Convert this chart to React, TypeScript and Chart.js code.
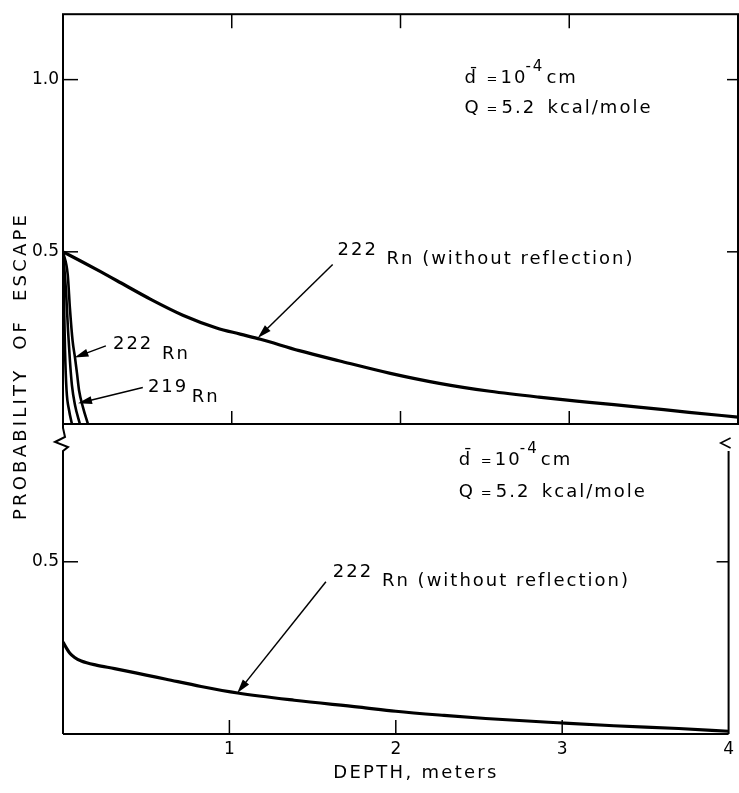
import React, { useEffect, useRef } from "react";
import { Chart, registerables } from "chart.js";

Chart.register(...registerables);

const FONT = '"DejaVu Sans", sans-serif';
const W = 739;
const H = 793;

// ---------- data (depth in meters, probability of escape) ----------
// Top panel
const topNoReflDepth = [0, 0.11, 0.22, 0.32, 0.52, 0.71, 0.91, 1.05, 1.17, 1.4, 1.64, 1.94, 2.23, 2.53, 2.82, 3.12, 3.41, 3.71, 4.0];
const topNoReflProb = [0.5, 0.472, 0.443, 0.416, 0.362, 0.316, 0.279, 0.261, 0.246, 0.213, 0.183, 0.147, 0.118, 0.095, 0.078, 0.063, 0.049, 0.034, 0.02];

const top222Depth = [0, 0.028, 0.041, 0.057, 0.071, 0.083, 0.095, 0.118, 0.148];
const top222Prob = [0.5, 0.434, 0.336, 0.241, 0.193, 0.147, 0.098, 0.049, 0.0];

const top219Depth = [0, 0.018, 0.03, 0.041, 0.053, 0.071, 0.1];
const top219Prob = [0.5, 0.385, 0.27, 0.184, 0.112, 0.055, 0.0];

const topInnerDepth = [0, 0.006, 0.012, 0.021, 0.036, 0.053];
const topInnerProb = [0.5, 0.356, 0.213, 0.098, 0.04, 0.0];

// Bottom panel
const botNoReflDepth = [0, 0.02, 0.04, 0.07, 0.11, 0.2, 0.31, 0.5, 0.62, 0.83, 1.05, 1.39, 1.78, 2.0, 2.29, 2.54, 3.0, 3.31, 3.7, 4.0];
const botNoReflProb = [0.267, 0.25, 0.235, 0.222, 0.212, 0.2, 0.19, 0.171, 0.159, 0.138, 0.119, 0.098, 0.078, 0.066, 0.054, 0.045, 0.032, 0.024, 0.016, 0.008];

// ticks
const xTickValues = [1, 2, 3, 4];
const xInnerTickValues = [1, 2, 3];
const topYTickValues = [0.5, 1.0];
const botYTickValues = [0.5];
const X_MIN = 0;
const X_MAX = 4;
const TOP_Y_MAX = 1.19;
const BOT_Y_MAX = 0.9;

type Part = { t: string; dx: number; dy?: number; size?: number };
type Note = { x: number; y: number; parts: Part[] };
type Arrow = { x1: number; y1: number; x2: number; y2: number };

const topNotes: Note[] = [
  { x: 2.379, y: 0.989, parts: [{ t: "d\u0304", dx: 0 }, { t: "=", dx: 22, size: 13 }, { t: "10", dx: 36 }, { t: "-4", dx: 61, dy: -12, size: 15 }, { t: "cm", dx: 82 }] },
  { x: 2.379, y: 0.902, parts: [{ t: "Q", dx: 0 }, { t: "=", dx: 22, size: 13 }, { t: "5.2", dx: 37 }, { t: "kcal/mole", dx: 83 }] },
  { x: 1.627, y: 0.491, parts: [{ t: "222", dx: 0 }] },
  { x: 1.917, y: 0.466, parts: [{ t: "Rn (without reflection)", dx: 0 }] },
  { x: 0.296, y: 0.218, parts: [{ t: "222", dx: 0 }] },
  { x: 0.586, y: 0.19, parts: [{ t: "Rn", dx: 0 }] },
  { x: 0.503, y: 0.092, parts: [{ t: "219", dx: 0 }] },
  { x: 0.763, y: 0.063, parts: [{ t: "Rn", dx: 0 }] },
];
const topArrows: Arrow[] = [
  { x1: 1.598, y1: 0.463, x2: 1.154, y2: 0.25 },
  { x1: 0.254, y1: 0.227, x2: 0.068, y2: 0.193 },
  { x1: 0.473, y1: 0.106, x2: 0.089, y2: 0.06 },
];
const botNotes: Note[] = [
  { x: 2.379, y: 0.782, parts: [{ t: "d\u0304", dx: 0 }, { t: "=", dx: 22, size: 13 }, { t: "10", dx: 36 }, { t: "-4", dx: 61, dy: -12, size: 15 }, { t: "cm", dx: 82 }] },
  { x: 2.379, y: 0.689, parts: [{ t: "Q", dx: 0 }, { t: "=", dx: 22, size: 13 }, { t: "5.2", dx: 37 }, { t: "kcal/mole", dx: 83 }] },
  { x: 1.621, y: 0.456, parts: [{ t: "222", dx: 0 }] },
  { x: 1.917, y: 0.43, parts: [{ t: "Rn (without reflection)", dx: 0 }] },
];
const botArrows: Arrow[] = [{ x1: 1.58, y1: 0.442, x2: 1.047, y2: 0.119 }];

const toPts = (xs: number[], ys: number[]) => xs.map((x, i) => ({ x, y: ys[i] }));

const ds = (xs: number[], ys: number[], w = 3) => ({
  data: toPts(xs, ys),
  borderColor: "#000",
  borderWidth: w,
  pointRadius: 0,
  fill: false,
  cubicInterpolationMode: "monotone" as const,
});

function drawArrow(ctx: CanvasRenderingContext2D, x1: number, y1: number, x2: number, y2: number) {
  ctx.save();
  ctx.strokeStyle = "#000";
  ctx.fillStyle = "#000";
  ctx.lineWidth = 1.5;
  const a = Math.atan2(y2 - y1, x2 - x1);
  const L = 14, w = 4;
  ctx.beginPath();
  ctx.moveTo(x1, y1);
  ctx.lineTo(x2 - (L - 2) * Math.cos(a), y2 - (L - 2) * Math.sin(a));
  ctx.stroke();
  ctx.beginPath();
  ctx.moveTo(x2, y2);
  ctx.lineTo(x2 - L * Math.cos(a) + w * Math.sin(a), y2 - L * Math.sin(a) - w * Math.cos(a));
  ctx.lineTo(x2 - L * Math.cos(a) - w * Math.sin(a), y2 - L * Math.sin(a) + w * Math.cos(a));
  ctx.closePath();
  ctx.fill();
  ctx.restore();
}

function drawNotes(chart: any, yId: string, notes: Note[], arrows: Arrow[]) {
  const ctx: CanvasRenderingContext2D = chart.ctx;
  const xs = chart.scales.x;
  const ys = chart.scales[yId];
  ctx.save();
  ctx.fillStyle = "#000";
  ctx.textAlign = "left";
  ctx.textBaseline = "alphabetic";
  (ctx as any).letterSpacing = "2px";
  for (const n of notes) {
    const px = xs.getPixelForValue(n.x);
    const py = ys.getPixelForValue(n.y);
    for (const p of n.parts) {
      ctx.font = `${p.size || 18}px ${FONT}`;
      ctx.fillText(p.t, px + p.dx, py + (p.dy || 0));
    }
  }
  ctx.restore();
  for (const a of arrows) {
    drawArrow(ctx, xs.getPixelForValue(a.x1), ys.getPixelForValue(a.y1), xs.getPixelForValue(a.x2), ys.getPixelForValue(a.y2));
  }
}

function line(ctx: CanvasRenderingContext2D, x1: number, y1: number, x2: number, y2: number) {
  ctx.beginPath();
  ctx.moveTo(x1, y1);
  ctx.lineTo(x2, y2);
  ctx.stroke();
}

const topFramePlugin = {
  id: "topFrame",
  afterDraw(chart: any) {
    const { ctx, chartArea: a } = chart;
    const xs = chart.scales.x;
    const ys = chart.scales.y;
    ctx.save();
    ctx.strokeStyle = "#000";
    ctx.lineWidth = 2;
    ctx.strokeRect(a.left, a.top, a.right - a.left, a.bottom - a.top);
    ctx.lineWidth = 1.5;
    for (const v of xInnerTickValues) {
      const px = xs.getPixelForValue(v);
      line(ctx, px, a.top, px, a.top + 14);
      line(ctx, px, a.bottom, px, a.bottom - 13);
    }
    for (const v of topYTickValues) {
      const py = ys.getPixelForValue(v);
      line(ctx, a.left, py, a.left + 15, py);
      line(ctx, a.right, py, a.right - 11, py);
    }
    ctx.restore();
    drawNotes(chart, "y", topNotes, topArrows);
  },
};

const botFramePlugin = {
  id: "botFrame",
  afterDraw(chart: any) {
    const { ctx, chartArea: a } = chart;
    const xs = chart.scales.x;
    const ys = chart.scales.y;
    ctx.save();
    ctx.strokeStyle = "#000";
    ctx.lineWidth = 2;
    // top & bottom
    line(ctx, a.left, a.top, a.right, a.top);
    line(ctx, a.left, a.bottom, a.right, a.bottom);
    // left axis with break mark
    ctx.beginPath();
    ctx.moveTo(a.left, a.top);
    ctx.lineTo(a.left, a.top + 4);
    ctx.lineTo(a.left + 2, a.top + 13);
    ctx.lineTo(a.left - 8, a.top + 18);
    ctx.lineTo(a.left + 5, a.top + 23);
    ctx.lineTo(a.left, a.top + 27);
    ctx.lineTo(a.left, a.bottom);
    ctx.stroke();
    // right axis with break mark
    ctx.lineWidth = 1.5;
    ctx.beginPath();
    ctx.moveTo(a.right + 2, a.top + 14);
    ctx.lineTo(a.right - 8, a.top + 19);
    ctx.lineTo(a.right + 2, a.top + 24);
    ctx.stroke();
    ctx.lineWidth = 2;
    line(ctx, a.right, a.top + 27, a.right, a.bottom);
    ctx.lineWidth = 1.5;
    for (const v of xInnerTickValues) {
      const px = xs.getPixelForValue(v);
      line(ctx, px, a.bottom, px, a.bottom - 14);
    }
    for (const v of botYTickValues) {
      const py = ys.getPixelForValue(v);
      line(ctx, a.left, py, a.left + 15, py);
      line(ctx, a.right, py, a.right - 12, py);
    }
    ctx.restore();
    drawNotes(chart, "y", botNotes, botArrows);

    // axis titles
    ctx.save();
    ctx.fillStyle = "#000";
    ctx.font = `18px ${FONT}`;
    ctx.textAlign = "center";
    ctx.textBaseline = "middle";
    (ctx as any).letterSpacing = "2.3px";
    ctx.fillText("DEPTH, meters", 416, 773);
    ctx.translate(21, 366);
    ctx.rotate(-Math.PI / 2);
    (ctx as any).letterSpacing = "3.2px";
    ctx.fillText("PROBABILITY  OF  ESCAPE", 0, 0);
    ctx.restore();
  },
};

const yAxis = (max: number, ticks: number[]) => ({
  type: "linear" as const,
  min: 0,
  max,
  afterFit: (s: any) => {
    s.width = 63;
  },
  afterBuildTicks: (s: any) => {
    s.ticks = ticks.map((v) => ({ value: v }));
  },
  grid: { display: false, drawTicks: false },
  border: { display: false },
  ticks: {
    padding: 4,
    color: "#000",
    font: { family: FONT, size: 17 },
    callback: (v: any) => Number(v).toFixed(1),
  },
});

export default function App() {
  const topRef = useRef<HTMLCanvasElement>(null);
  const botRef = useRef<HTMLCanvasElement>(null);

  useEffect(() => {
    const top = new Chart(topRef.current!, {
      type: "line",
      data: {
        datasets: [
          ds(topNoReflDepth, topNoReflProb, 3.2),
          ds(top222Depth, top222Prob, 2.6),
          ds(top219Depth, top219Prob, 2.6),
          ds(topInnerDepth, topInnerProb, 2.6),
        ] as any,
      },
      options: {
        responsive: false,
        animation: false,
        devicePixelRatio: 1,
        layout: { padding: { top: 10, right: 1, bottom: H - 424, left: 0 } },
        plugins: { legend: { display: false }, tooltip: { enabled: false } },
        scales: {
          x: { type: "linear", min: X_MIN, max: X_MAX, display: false },
          y: yAxis(TOP_Y_MAX, topYTickValues) as any,
        },
      },
      plugins: [topFramePlugin],
    });

    const bot = new Chart(botRef.current!, {
      type: "line",
      data: {
        datasets: [ds(botNoReflDepth, botNoReflProb, 3.2)] as any,
      },
      options: {
        responsive: false,
        animation: false,
        devicePixelRatio: 1,
        layout: { padding: { top: 424, right: 1, bottom: 0, left: 0 } },
        plugins: { legend: { display: false }, tooltip: { enabled: false } },
        scales: {
          x: {
            type: "linear",
            min: X_MIN,
            max: X_MAX,
            position: "bottom",
            afterFit: (s: any) => {
              s.height = H - 734;
            },
            afterBuildTicks: (s: any) => {
              s.ticks = xTickValues.map((v) => ({ value: v }));
            },
            grid: { display: false, drawTicks: false },
            border: { display: false },
            ticks: {
              padding: 5,
              autoSkip: false,
              maxRotation: 0,
              color: "#000",
              font: { family: FONT, size: 17 },
              callback: (v: any) => String(v),
            },
          },
          y: yAxis(BOT_Y_MAX, botYTickValues) as any,
        },
      },
      plugins: [botFramePlugin],
    });

    return () => {
      top.destroy();
      bot.destroy();
    };
  }, []);

  const cs: React.CSSProperties = { position: "absolute", left: 0, top: 0, width: W, height: H };
  return (
    <div style={{ position: "absolute", left: 0, top: 0, width: W, height: H, background: "#fff" }}>
      <canvas ref={topRef} width={W} height={H} style={cs} />
      <canvas ref={botRef} width={W} height={H} style={cs} />
    </div>
  );
}
